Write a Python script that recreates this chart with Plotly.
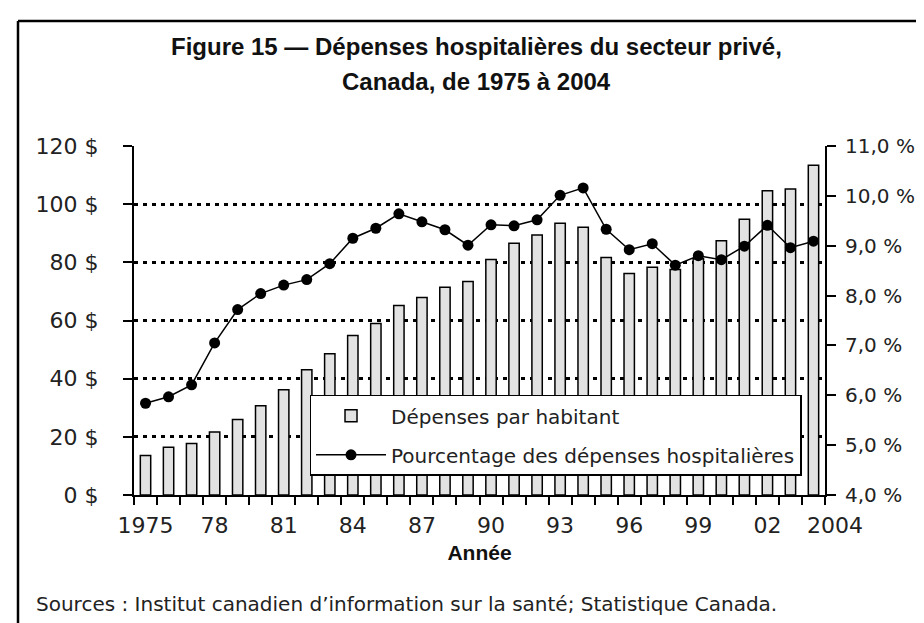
import plotly.graph_objects as go

# Données
annees = list(range(1975, 2005))
depenses_par_habitant = [13.6, 16.4, 17.7, 21.7, 26.0, 30.7, 36.2, 43.1, 48.6, 54.8,
                         59.0, 65.2, 67.9, 71.4, 73.4, 81.0, 86.6, 89.4, 93.4, 92.1,
                         81.7, 76.2, 78.3, 77.5, 81.2, 87.4, 94.8, 104.6, 105.2, 113.4]
pourcentage_hosp = [5.84, 5.97, 6.21, 7.05, 7.72, 8.04, 8.21, 8.32, 8.64, 9.15,
                    9.35, 9.64, 9.48, 9.32, 9.01, 9.42, 9.40, 9.52, 10.01, 10.16,
                    9.33, 8.92, 9.04, 8.61, 8.80, 8.72, 8.99, 9.41, 8.96, 9.09]
annees_etiquettes = [1975, 1978, 1981, 1984, 1987, 1990, 1993, 1996, 1999, 2002, 2004]
textes_etiquettes = ["1975", "78", "81", "84", "87", "90", "93", "96", "99", "02", "2004"]

TICK_FONT = dict(family="DejaVu Sans", size=22, color="#222")
TITRE_FONT = dict(family="Liberation Sans", size=24, color="#111")

fig = go.Figure()

fig.add_trace(go.Bar(
    x=annees, y=depenses_par_habitant,
    width=0.45,
    marker=dict(color="#e2e2e2", line=dict(color="black", width=1.5)),
    name="Dépenses par habitant",
    legendgroup="a",
))

fig.add_trace(go.Scatter(
    x=annees, y=pourcentage_hosp, yaxis="y2",
    mode="lines+markers",
    line=dict(color="black", width=1.5),
    marker=dict(color="black", size=11),
    name="Pourcentage des dépenses hospitalières",
    legendgroup="b",
))

fig.update_layout(
    width=924, height=623,
    margin=dict(l=126, r=107, t=138, b=136),
    paper_bgcolor="white", plot_bgcolor="white",
    separators=", ",
    showlegend=True,
    legend=dict(
        x=0.254, y=0.287, xanchor="left", yanchor="top",
        bgcolor="white", bordercolor="black", borderwidth=1.5,
        font=dict(family="DejaVu Sans", size=20, color="#222"),
        itemwidth=70, tracegroupgap=10,
    ),
    xaxis=dict(
        range=[1974.5, 2004.5],
        # la dernière étiquette (2004) est posée à part, décalée à droite comme dans l'original
        tickvals=annees_etiquettes[:-1], ticktext=textes_etiquettes[:-1],
        tickangle=0,
        ticks="", showgrid=False,
        showline=True, linecolor="black", linewidth=2,
        tickfont=TICK_FONT, ticklabelstandoff=10,
        minor=dict(tick0=1974.5, dtick=1, ticks="outside", ticklen=8,
                   tickcolor="black", tickwidth=1.5, showgrid=False),
        title=dict(text="<b>Année</b>", standoff=8,
                   font=dict(family="Liberation Sans", size=21, color="#111")),
        zeroline=False,
    ),
    yaxis=dict(
        range=[0, 120], dtick=20,
        ticksuffix=" $",
        showline=True, linecolor="black", linewidth=2,
        ticks="outside", ticklen=9, tickcolor="black", tickwidth=1.5,
        showgrid=True, gridcolor="black", gridwidth=2.5, griddash="4px,5px",
        tickfont=TICK_FONT, ticklabelstandoff=20,
        zeroline=False,
    ),
    yaxis2=dict(
        range=[4, 11], dtick=1, tickformat=".1f",
        ticksuffix=" %",
        overlaying="y", side="right",
        showline=True, linecolor="black", linewidth=2,
        ticks="outside", ticklen=9, tickcolor="black", tickwidth=1.5,
        showgrid=False, zeroline=False,
        tickfont=dict(family="DejaVu Sans", size=20, color="#222"),
        ticklabelstandoff=5,
    ),
    annotations=[
        dict(text=textes_etiquettes[-1],
             xref="x", yref="paper", x=annees_etiquettes[-1], xshift=22,
             y=0, yshift=-30, xanchor="center", yanchor="middle",
             showarrow=False, font=TICK_FONT),
        dict(text="<b>Figure 15 — Dépenses hospitalières du secteur privé,</b>",
             xref="paper", yref="paper", x=0.495, y=1.0, yshift=100,
             xanchor="center", yanchor="middle", showarrow=False,
             font=TITRE_FONT),
        dict(text="<b>Canada, de 1975 à 2004</b>",
             xref="paper", yref="paper", x=0.495, y=1.0, yshift=65,
             xanchor="center", yanchor="middle", showarrow=False,
             font=TITRE_FONT),
        dict(text="Sources : Institut canadien d’information sur la santé; Statistique Canada.",
             xref="paper", yref="paper", x=0, xshift=-100, y=0, yshift=-109,
             xanchor="left", yanchor="middle", showarrow=False,
             font=dict(family="DejaVu Sans", size=20, color="#222")),
    ],
    shapes=[
        # cadre extérieur : ligne du haut et ligne de gauche
        dict(type="line", xref="paper", yref="paper",
             x0=-116 / 691, x1=808 / 691, y0=1 + 125 / 349, y1=1 + 125 / 349,
             line=dict(color="black", width=2.5)),
        dict(type="line", xref="paper", yref="paper",
             x0=-116 / 691, x1=-116 / 691, y0=1 + 125 / 349, y1=-136 / 349,
             line=dict(color="black", width=2.5)),
    ],
)

fig.write_html("out.html")
